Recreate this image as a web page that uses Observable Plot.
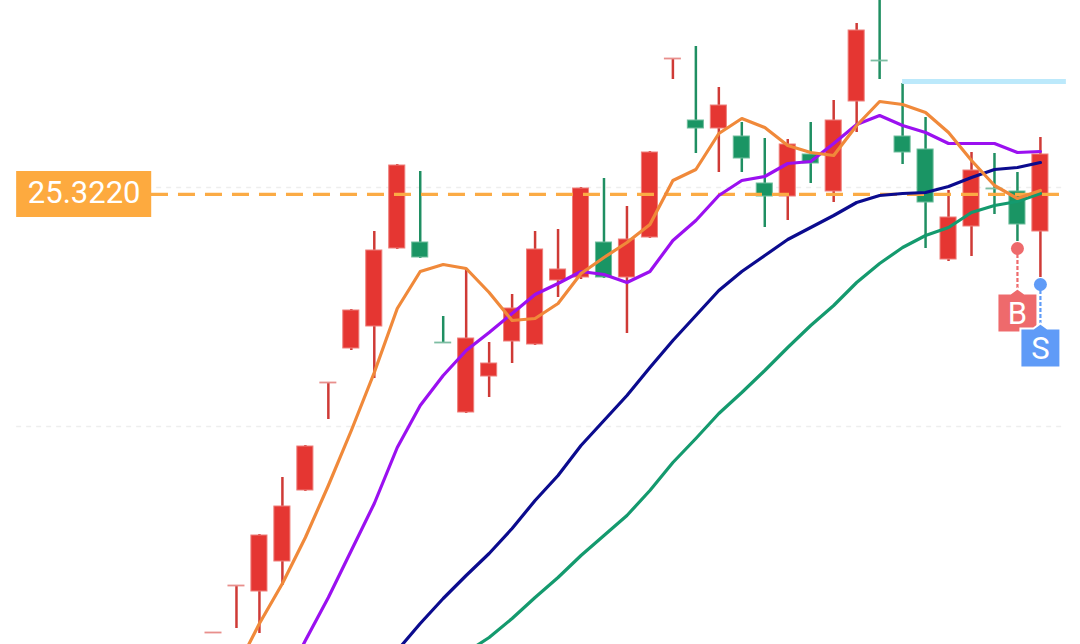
<!DOCTYPE html>
<html>
<head>
<meta charset="utf-8">
<style>
html,body{margin:0;padding:0;background:#fff;overflow:hidden}
svg{display:block}
</style>
<script src="https://cdn.jsdelivr.net/npm/d3@7"></script>
<script src="https://cdn.jsdelivr.net/npm/@observablehq/plot@0.6"></script>
</head>
<body>
<div id="chart"></div>
<script>
const opens  = [20.94,21.41,21.35,21.65,22.36,23.44,23.78,24.00,24.78,24.84,23.84,23.14,23.50,23.85,23.82,24.46,24.49,24.84,24.49,24.89,26.68,26.06,25.98,25.90,25.43,25.30,25.72,25.35,26.25,26.66,25.90,25.77,24.67,25.00,25.38,25.35,24.95];
const closes = [20.94,21.41,21.91,22.20,22.80,23.44,24.16,24.76,25.61,24.69,23.84,23.88,23.63,24.18,24.77,24.57,25.38,24.49,24.87,25.74,26.68,25.98,26.21,25.68,25.30,25.82,25.63,26.06,26.96,26.66,25.74,25.24,25.09,25.56,25.38,25.02,25.72];
const highs  = [20.94,21.41,21.92,22.49,22.81,23.44,24.17,24.95,25.62,25.55,24.10,24.58,23.84,24.32,24.95,24.97,25.39,25.48,25.20,25.75,26.68,26.80,26.39,26.04,25.88,25.87,26.04,26.26,27.03,27.31,26.43,26.09,25.36,25.74,25.73,25.54,25.89];
const lows   = [20.94,20.98,20.93,21.41,22.35,23.07,23.76,23.48,24.77,24.68,23.84,23.13,23.29,23.63,23.81,24.29,24.47,24.48,23.93,24.88,26.47,25.73,25.54,25.54,24.99,25.06,25.43,25.24,25.94,26.47,25.62,24.78,24.65,24.70,25.12,24.85,24.49];

const ma5  = [null,20.58,21.03,21.43,21.89,22.41,22.96,23.54,24.18,24.55,24.62,24.58,24.34,24.06,24.08,24.23,24.53,24.69,24.84,25.02,25.46,25.57,25.93,26.08,25.99,25.81,25.74,25.71,26.01,26.25,26.22,26.14,25.94,25.66,25.41,25.28,25.36];
const ma10 = [null,null,null,20.41,20.86,21.29,21.76,22.23,22.79,23.21,23.51,23.76,23.94,24.13,24.32,24.43,24.55,24.52,24.44,24.55,24.86,25.06,25.31,25.46,25.50,25.63,25.65,25.83,26.02,26.11,26.01,25.94,25.83,25.83,25.83,25.74,25.75];
const ma20 = [null,null,null,null,null,null,null,null,20.76,21.03,21.28,21.51,21.73,21.98,22.26,22.51,22.81,23.06,23.31,23.59,23.86,24.11,24.36,24.55,24.71,24.87,24.99,25.11,25.24,25.31,25.33,25.34,25.40,25.49,25.57,25.59,25.64];
const ma30 = [null,null,null,null,null,null,null,null,null,null,null,20.74,20.89,21.08,21.29,21.49,21.71,21.91,22.11,22.36,22.64,22.88,23.13,23.34,23.56,23.79,24.01,24.21,24.44,24.63,24.79,24.91,24.99,25.14,25.21,25.25,25.33];

const lastPrice = 25.322;
const lastPriceText = "25.3220";
const gridPrices = [25.39, 23.00];
const resistance = [26.45];
const signals = [
  {label: "B", bar: 35, price: 24.78, tag: 24.38},
  {label: "S", bar: 36, price: 24.42, tag: 24.03}
];

const bars = d3.range(opens.length);
const isUp = i => closes[i] > opens[i] || (closes[i] === opens[i] && (i === 0 || closes[i] >= closes[i - 1]));
const isDoji = i => opens[i] === closes[i];
const RED = "#e53632", GREEN = "#1a9564";

const tagSymbol = {
  draw(c) {
    c.moveTo(0, 0);
    c.lineTo(7, 5);
    c.lineTo(20, 5);
    c.lineTo(20, 44);
    c.lineTo(-20, 44);
    c.lineTo(-20, 5);
    c.lineTo(-7, 5);
    c.closePath();
  }
};

const maLine = (values, color) => Plot.line(bars, {
  x: i => i, y: i => values[i], stroke: color, strokeWidth: 3.2,
  strokeLinejoin: "round", curve: "linear"
});

const signalColor = s => s.label === "B" ? "#ee6a6c" : "#5f9bf7";

const plot = Plot.plot({
  width: 1080, height: 644,
  marginTop: 0, marginRight: 0, marginBottom: 0, marginLeft: 0,
  style: {background: "#fff", fontFamily: "Roboto"},
  x: {type: "linear", domain: [-9.273, 37.745], axis: null},
  y: {type: "linear", domain: [20.82, 27.26], axis: null},
  marks: [
    Plot.ruleY(gridPrices, {x1: -8.57, x2: 37.13, stroke: "#eeeeee", strokeWidth: 1.5, strokeDasharray: "5 5"}),
    Plot.ruleX(bars, {x: i => i, y1: i => highs[i], y2: i => lows[i],
      stroke: i => isUp(i) ? "#cf3a36" : "#1f8f62", strokeWidth: 2.5}),
    Plot.rect(bars.filter(i => !isDoji(i)), {
      x1: i => i - 0.35, x2: i => i + 0.35, y1: i => opens[i], y2: i => closes[i],
      fill: i => isUp(i) ? RED : GREEN,
      stroke: i => isUp(i) ? "#ee7f7b" : "#6fbd9c", strokeWidth: 1
    }),
    Plot.ruleY(bars.filter(isDoji), {
      x1: i => i - 0.37, x2: i => i + 0.37, y: i => closes[i],
      stroke: i => isUp(i) ? "#e88f8c" : "#7dbda3", strokeWidth: 1.8
    }),
    Plot.ruleY([lastPrice], {x1: -2.7, x2: 36.83, stroke: "#fbab45", strokeWidth: 3.2, strokeDasharray: "17 10"}),
    maLine(ma30, "#149a6e"),
    maLine(ma20, "#0b0b8e"),
    maLine(ma10, "#9b10f0"),
    maLine(ma5, "#f0893a"),
    Plot.ruleY(resistance, {x1: 30, x2: 37.13, stroke: "#bce9fb", strokeWidth: 5}),
    Plot.rect([lastPrice], {x1: -8.57, x2: -2.69, y1: 25.09, y2: 25.55, fill: "#fdaa3f"}),
    Plot.text([lastPriceText], {x: -5.63, y: lastPrice, text: d => d, fill: "#fff",
      fontFamily: "Roboto", fontSize: 31, fontWeight: 400, textAnchor: "middle", lineAnchor: "middle", dy: -1}),
    Plot.ruleX(signals, {x: "bar", y1: "price", y2: "tag", stroke: signalColor, strokeWidth: 2.2, strokeDasharray: "4 2"}),
    Plot.dot(signals, {x: "bar", y: "price", r: 6.5, fill: signalColor}),
    Plot.dot(signals, {x: "bar", y: "tag", symbol: tagSymbol, r: 6, fill: signalColor, stroke: "#fff", strokeWidth: 2}),
    Plot.text(signals, {x: "bar", y: "tag", text: "label", fill: "#fff", dy: 25.5,
      fontFamily: "Roboto", fontSize: 31, fontWeight: 400, textAnchor: "middle", lineAnchor: "middle"})
  ]
});
document.getElementById("chart").appendChild(plot);
</script>
</body>
</html>
